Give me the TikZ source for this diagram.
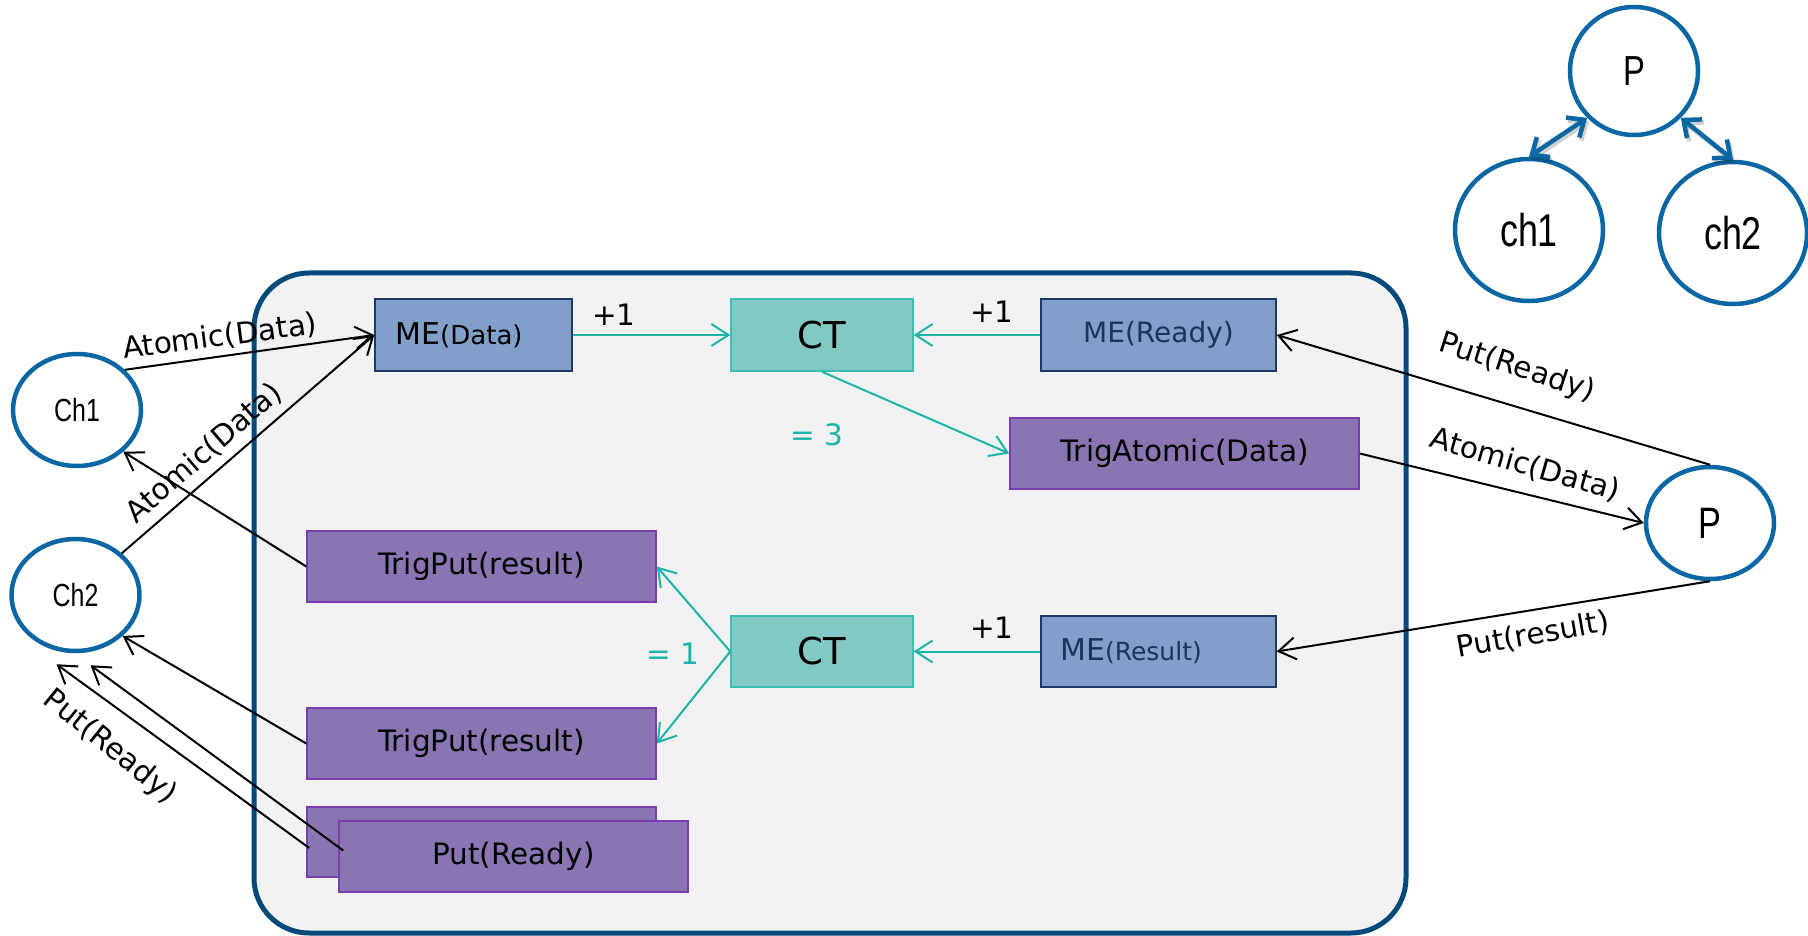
\documentclass[tikz,border=0pt]{standalone}
\usepackage{fontspec}
\setmainfont{DejaVu Sans}
\newfontfamily\narrowfont[FakeStretch=0.78]{Liberation Sans}
\usetikzlibrary{shapes.geometric,arrows.meta}
\definecolor{circblue}{HTML}{0B67A3}
\definecolor{framec}{HTML}{03497A}
\definecolor{framefill}{HTML}{F2F2F2}
\definecolor{mefill}{HTML}{819FC9}
\definecolor{meborder}{HTML}{203864}
\definecolor{metext}{HTML}{17375E}
\definecolor{ctfill}{HTML}{83C9C3}
\definecolor{ctborder}{HTML}{3BBFB3}
\definecolor{purpfill}{HTML}{8A75B3}
\definecolor{purpborder}{HTML}{7A3DB0}
\definecolor{tealc}{HTML}{1BB5A8}
\begin{document}
\begin{tikzpicture}[x=1pt,y=-1pt,
  circ/.style={ellipse,draw=circblue,line width=4.5pt,fill=white,inner sep=0pt,font=\narrowfont\fontsize{32}{38}\selectfont},
  mebox/.style={rectangle,draw=meborder,line width=1.5pt,fill=mefill,inner sep=0pt,minimum height=72pt},
  ctbox/.style={rectangle,draw=ctborder,line width=1.5pt,fill=ctfill,inner sep=0pt,minimum width=182pt,minimum height=72pt,font=\fontsize{37}{44}\selectfont},
  pbox/.style={rectangle,draw=purpborder,line width=1.5pt,fill=purpfill,inner sep=0pt,minimum width=349pt,minimum height=71pt,font=\fontsize{29.5}{35}\selectfont},
  blk/.style={draw=black,line width=2pt,-{Straight Barb[length=17pt,width=22pt]}},
  tl/.style={draw=tealc,line width=2pt,-{Straight Barb[length=17pt,width=22pt]}},
  dbl/.style={draw=circblue,line width=4.5pt,{Straight Barb[length=14pt,width=24pt]}-{Straight Barb[length=14pt,width=24pt]}},
  lbl/.style={font=\fontsize{29.5}{35}\selectfont,inner sep=0pt},
  num/.style={font=\fontsize{29.5}{35}\selectfont,inner sep=0pt},
]
\useasboundingbox (0,0) rectangle (1808,936);
% container
\draw[draw=framec,fill=framefill,line width=5pt,rounded corners=55pt] (254,273) rectangle (1406,933);

% left channels
\node[circ,minimum width=128pt,minimum height=112pt] (ch1) at (77,410) {Ch1};
\node[circ,minimum width=128pt,minimum height=112pt] (ch2) at (75.5,595) {Ch2};
% right P
\node[circ,minimum width=128pt,minimum height=112pt,font=\narrowfont\fontsize{44}{50}\selectfont] (pR) at (1710,523) {P};
% top-right tree
\node[circ,minimum width=128pt,minimum height=128pt,font=\narrowfont\fontsize{42}{50}\selectfont] (pT) at (1634,71) {P};
\node[circ,minimum width=148pt,minimum height=142pt,font=\narrowfont\fontsize{46}{54}\selectfont] (c1T) at (1529,230) {ch1};
\node[circ,minimum width=148pt,minimum height=142pt,font=\narrowfont\fontsize{46}{54}\selectfont] (c2T) at (1733,233) {ch2};

% boxes
\node[mebox,minimum width=197pt,font=\fontsize{30}{36}\selectfont] (MEd) at (473.5,335) {ME{\fontsize{26}{30}\selectfont(Data)}\hspace*{29pt}};
\node[ctbox] (CT1) at (822,335) {CT};
\node[mebox,minimum width=235pt,text=metext,font=\fontsize{28}{34}\selectfont] (MEr) at (1158.5,335) {ME(Ready)};
\node[pbox] (TA) at (1184.5,453.5) {TrigAtomic(Data)};
\node[pbox] (TP1) at (481.5,566.5) {TrigPut(result)};
\node[ctbox,minimum height=71pt] (CT2) at (822,651.5) {CT};
\node[mebox,minimum width=235pt,minimum height=71pt,text=metext,font=\fontsize{30}{36}\selectfont] (MEres) at (1158.5,651.5) {ME{\fontsize{25}{30}\selectfont(Result)}\hspace*{55pt}};
\node[pbox] (TP2) at (481.5,743.5) {TrigPut(result)};
\node[pbox,minimum height=70pt] (PRb) at (481.5,842) {};
\node[pbox] (PRf) at (513.5,856.5) {Put(Ready)};

% coordinates for free ends
\coordinate (prbStart) at ([shift={(3,6)}]PRb.west);
\coordinate (prfStart) at ([shift={(5,-6)}]PRf.west);
\coordinate (prbTip) at ([shift={(-19,11)}]ch2.south);
\coordinate (prfTip) at ([shift={(15,12)}]ch2.south);

% teal connectors
\draw[tl] (MEd.east) -- (CT1.west);
\draw[tl] (MEr.west) -- (CT1.east);
\draw[tl] (CT1.south) -- (TA.west);
\draw[tl] (MEres.west) -- (CT2.east);
\draw[tl] (CT2.west) -- (TP1.east);
\draw[tl] (CT2.west) -- (TP2.east);

% black connectors
\draw[blk] (ch1.40) -- (MEd.west);
\draw[blk] (ch2.42) -- (MEd.west);
\draw[blk] (TP1.west) -- (ch1.-42);
\draw[blk] (TP2.west) -- (ch2.-41);
\draw[blk] (prbStart) -- (prbTip);
\draw[blk] (prfStart) -- (prfTip);
\draw[blk] (pR.north) -- (MEr.east);
\draw[blk] (TA.east) -- (pR.west);
\draw[blk] (pR.south) -- (MEres.east);

% top-right double arrows with shadow
\begin{scope}[transform canvas={shift={(2pt,-3pt)}}]
\draw[dbl,draw=black,opacity=0.18] (c1T.north) -- (pT.-135);
\draw[dbl,draw=black,opacity=0.18] (pT.-45) -- (c2T.north);
\end{scope}
\draw[dbl] (c1T.north) -- (pT.-135);
\draw[dbl] (pT.-45) -- (c2T.north);

% labels
\node[lbl,rotate=7.5] (l1) at (220,337) {Atomic(Data)};
\node[lbl,rotate=41] (l2) at (204,453) {Atomic(Data)};
\node[lbl,rotate=-39] (l3) at (110,747) {Put(Ready)};
\node[lbl,rotate=-18] (l4) at (1517,368) {Put(Ready)};
\node[lbl,rotate=-16] (l5) at (1525,465) {Atomic(Data)};
\node[lbl,rotate=10] (l6) at (1533,635) {Put(result)};
\node[num] (n1) at (614,315) {+1};
\node[num] (n2) at (992,312) {+1};
\node[num] (n3) at (992,628) {+1};
\node[num,text=tealc] (n4) at (817,435) {= 3};
\node[num,text=tealc] (n5) at (673,654) {= 1};
\end{tikzpicture}
\end{document}
